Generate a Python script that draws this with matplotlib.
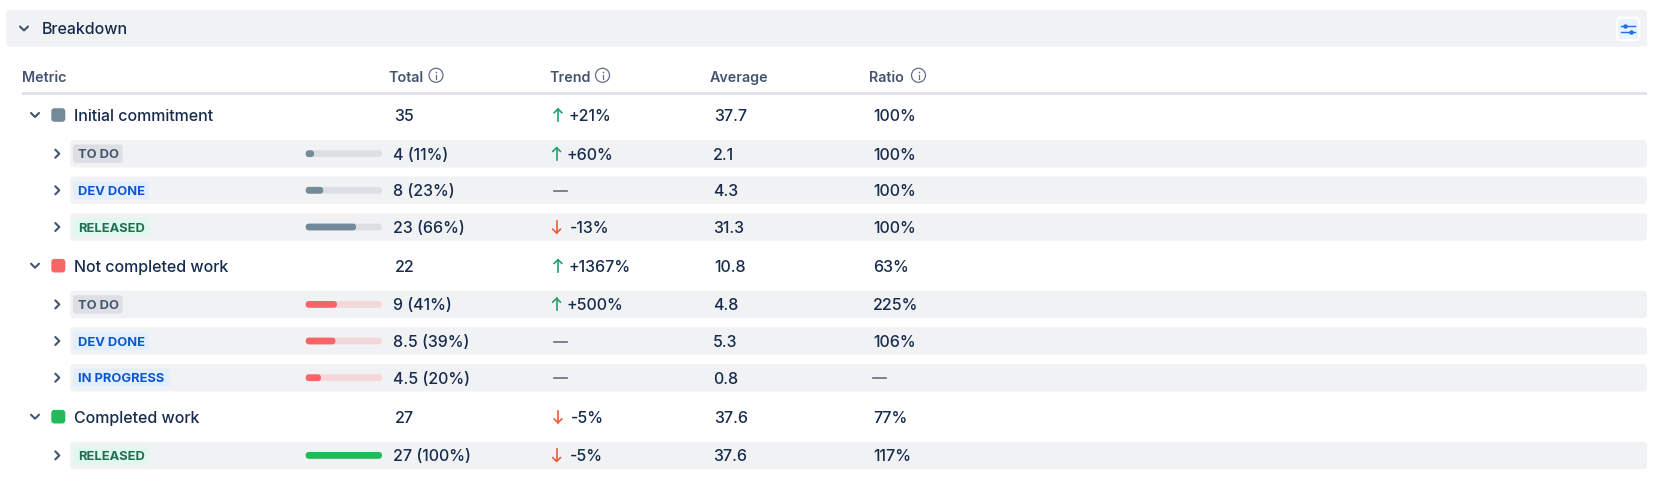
import matplotlib

matplotlib.use("Agg")
import matplotlib.pyplot as plt
from matplotlib.patches import Circle, FancyBboxPatch, Rectangle

plt.rcParams["font.family"] = ["Inter", "DejaVu Sans"]

INK = "#172B4D"
SLATE = "#44546F"
ROW_BG = "#F1F2F4"

columns = ["Metric", "Total", "Trend", "Average", "Ratio"]
groups = ["Initial commitment", "Not completed work", "Completed work"]
group_totals = ["35", "22", "27"]
group_trends = ["+21%", "+1367%", "-5%"]
group_averages = ["37.7", "10.8", "37.6"]
group_ratios = ["100%", "63%", "77%"]

statuses = [
    ["TO DO", "DEV DONE", "RELEASED"],
    ["TO DO", "DEV DONE", "IN PROGRESS"],
    ["RELEASED"],
]
shares = [[11, 23, 66], [41, 39, 20], [100]]
totals = [
    ["4 (11%)", "8 (23%)", "23 (66%)"],
    ["9 (41%)", "8.5 (39%)", "4.5 (20%)"],
    ["27 (100%)"],
]
trends = [["+60%", "—", "-13%"], ["+500%", "—", "—"], ["-5%"]]
averages = [["2.1", "4.3", "31.3"], ["4.8", "5.3", "0.8"], ["37.6"]]
ratios = [["100%", "100%", "100%"], ["225%", "106%", "—"], ["117%"]]

group_colors = ["#738A9B", "#F96566", "#22BB5B"]
track_colors = ["#DCDFE4", "#F4D7D9", "#DCDFE4"]
tag_styles = {
    "TO DO": ("#DCDFE4", "#44546F", 49.7),
    "DEV DONE": ("#E3EFFF", "#0C55CC", 76),
    "IN PROGRESS": ("#E3EFFF", "#0C55CC", 97),
    "RELEASED": ("#E0F8EE", "#216E4E", 76.7),
}


def rounded(ax, x, y, w, h, radius, color, zorder=1, **kwargs):
    ax.add_patch(
        FancyBboxPatch(
            (x + radius, y + radius),
            w - 2 * radius,
            h - 2 * radius,
            boxstyle=f"round,pad={radius},rounding_size={radius}",
            fc=color,
            ec="none",
            zorder=zorder,
            **kwargs,
        )
    )


def chevron(ax, x, y, down=True):
    if down:
        xs, ys = [x - 4, x, x + 4], [y - 2, y + 2, y - 2]
    else:
        xs, ys = [x - 2, x + 2, x - 2], [y - 4, y, y + 4]
    ax.plot(xs, ys, color=SLATE, lw=1.5, solid_capstyle="round", zorder=3)


def info_icon(ax, x, y):
    ax.add_patch(Circle((x, y), 7, fc="none", ec="#626F86", lw=0.9, zorder=3))
    ax.plot([x, x], [y - 0.8, y + 3.4], color="#626F86", lw=0.9, zorder=3)
    ax.plot([x], [y - 3.2], marker="o", ms=1.2, mew=0, color="#626F86", zorder=3)


def trend_cell(ax, x, y, value):
    """Arrow plus label, or a muted dash when there is no trend."""
    if value == "—":
        ax.plot([x, x + 13], [y + 0.5, y + 0.5], color="#626F86", lw=1.2, zorder=3)
        return
    up = value.startswith("+")
    color = "#22A06B" if up else "#F15B37"
    sign = -1 if up else 1
    cx = x + 3
    ax.plot([cx, cx], [y - 6 * sign, y + 6 * sign], color=color, lw=1.2, zorder=3)
    ax.plot(
        [cx - 3.8, cx, cx + 3.8],
        [y + 2.3 * sign, y + 6 * sign, y + 2.3 * sign],
        color=color,
        lw=1.2,
        zorder=3,
    )
    offset = 13.2 if up else 15.8
    ax.text(x + offset, y, value, color=INK, **body_font)


body_font = dict(fontsize=11.5, fontweight="medium", va="center_baseline", ha="left", zorder=4)
head_font = dict(fontsize=10.3, fontweight="semibold", va="center_baseline", ha="left")

fig = plt.figure(figsize=(16.6, 4.84), dpi=100, facecolor="white")
ax = fig.add_axes([0, 0, 1, 1])
ax.set_xlim(0, 1660)
ax.set_ylim(484, 0)
ax.axis("off")

# top bar
rounded(ax, 6, 10, 1641, 36.7, 4, ROW_BG)
chevron(ax, 24, 28.5)
ax.text(42.2, 28.3, "Breakdown", color=INK, **body_font)
rounded(ax, 1616, 16.7, 24, 24.4, 4, "white", zorder=2)
rounded(ax, 1618, 18.7, 20, 20.4, 3, "#E9F2FF", zorder=3)
for line_y, knob_x in [(25.7, 1625), (31.7, 1630.7)]:
    ax.plot([1621, 1635], [line_y, line_y], color="#1D6FF0", lw=1.0, zorder=4)
    ax.plot([knob_x], [line_y], marker="o", ms=3.2, mew=0, color="#1D6FF0", zorder=5)

# column headers
header_x = [22, 388.5, 549, 709.5, 869]
icon_x = {"Total": 436, "Trend": 602.5, "Ratio": 918.5}
for name, x in zip(columns, header_x):
    ax.text(x, 76.5, name, color=SLATE, **head_font)
    if name in icon_x:
        info_icon(ax, icon_x[name], 75.3)
ax.add_patch(Rectangle((22, 92.2), 1625, 3, fc="#E1E3E8", ec="none"))

# rows
group_y = [115, 265.7, 416.7]
row_y = [[153.7, 190.3, 227], [304.4, 341, 377.7], [455.4]]
for g, name in enumerate(groups):
    y = group_y[g]
    chevron(ax, 35, y)
    rounded(ax, 51.3, y - 6.8, 14, 13.6, 3, group_colors[g], zorder=2)
    ax.text(74.3, y, name, color=INK, **body_font)
    ax.text(394.5, y, group_totals[g], color=INK, **body_font)
    trend_cell(ax, 555, y, group_trends[g])
    ax.text(714, y, group_averages[g], color=INK, **body_font)
    ax.text(873.2, y, group_ratios[g], color=INK, **body_font)

    for i, status in enumerate(statuses[g]):
        y = row_y[g][i]
        rounded(ax, 70, y - 13.7, 1577, 27.4, 4, ROW_BG)
        chevron(ax, 57.3, y, down=False)
        tag_bg, tag_fg, tag_w = tag_styles[status]
        rounded(ax, 73, y - 9.2, tag_w, 18.4, 3, tag_bg, zorder=2)
        ax.text(
            77.7,
            y,
            status,
            color=tag_fg,
            fontsize=9.3,
            fontweight="bold",
            va="center_baseline",
            ha="left",
            zorder=4,
        )
        rounded(ax, 305.7, y - 3.4, 76.3, 6.8, 3.4, track_colors[g], zorder=2)
        rounded(ax, 305.7, y - 3.4, 76.3 * shares[g][i] / 100, 6.8, 3.4, group_colors[g], zorder=3)
        ax.text(393.3, y, totals[g][i], color=INK, **body_font)
        trend_cell(ax, 553.6, y, trends[g][i])
        ax.text(713.3, y, averages[g][i], color=INK, **body_font)
        if ratios[g][i] == "—":
            ax.plot([873, 886], [y + 0.5, y + 0.5], color="#626F86", lw=1.2, zorder=3)
        else:
            ax.text(873, y, ratios[g][i], color=INK, **body_font)

fig.savefig("out.png", dpi=100)
